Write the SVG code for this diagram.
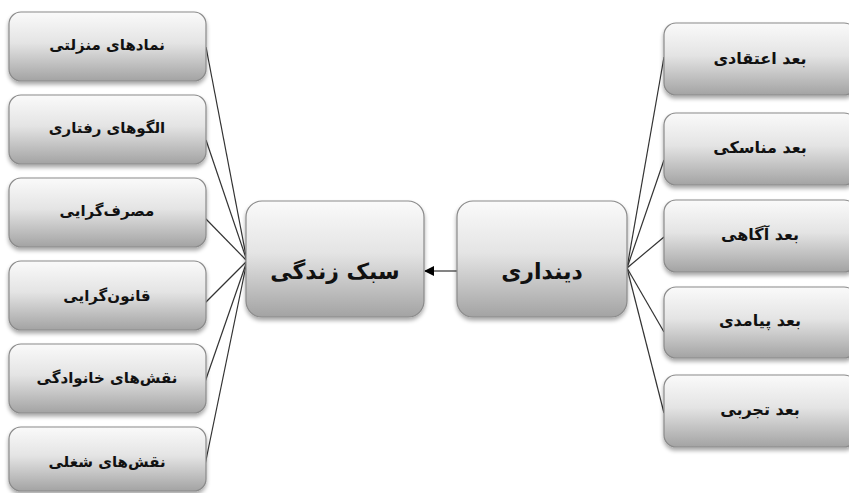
<svg xmlns="http://www.w3.org/2000/svg" width="849" height="493" viewBox="0 0 849 493">
<defs>
<linearGradient id="g" x1="0" y1="0" x2="0" y2="1">
<stop offset="0" stop-color="#fafafa"/>
<stop offset="0.45" stop-color="#e4e4e4"/>
<stop offset="1" stop-color="#a3a3a3"/>
</linearGradient>
<filter id="sh" x="-10%" y="-10%" width="120%" height="130%">
<feGaussianBlur in="SourceAlpha" stdDeviation="2"/>
<feOffset dx="0" dy="3" result="b"/>
<feComponentTransfer><feFuncA type="linear" slope="0.35"/></feComponentTransfer>
<feMerge><feMergeNode/><feMergeNode in="SourceGraphic"/></feMerge>
</filter>
<marker id="ah" markerWidth="10" markerHeight="10" refX="9" refY="5" orient="auto" markerUnits="userSpaceOnUse">
<path d="M0,0 L10,5 L0,10 z" fill="#000"/>
</marker>
</defs>
<style>
.box{fill:url(#g);stroke:#8a8a8a;stroke-width:1.2;filter:url(#sh)}
.t{font-family:"DejaVu Sans",sans-serif;font-weight:bold;fill:#111;text-anchor:middle;dominant-baseline:central}
.s{font-size:15px}
.r{font-size:16px}
.m{font-size:22px}
.c{stroke:#333;stroke-width:1.2;fill:none}
</style>
<rect width="849" height="493" fill="#fff"/>
<g id="connectors">
<line class="c" x1="206" y1="47" x2="247" y2="261"/>
<line class="c" x1="206" y1="140" x2="247" y2="261"/>
<line class="c" x1="205" y1="218" x2="247" y2="261"/>
<line class="c" x1="205" y1="303" x2="247" y2="261"/>
<line class="c" x1="205" y1="382" x2="247" y2="261"/>
<line class="c" x1="205" y1="465" x2="247" y2="261"/>
<line class="c" x1="664" y1="57" x2="627" y2="268"/>
<line class="c" x1="664" y1="160" x2="627" y2="268"/>
<line class="c" x1="664" y1="237" x2="627" y2="268"/>
<line class="c" x1="664" y1="332" x2="627" y2="268"/>
<line class="c" x1="664" y1="413" x2="627" y2="268"/>
<line class="c" x1="457" y1="271" x2="425" y2="271" stroke="#000" stroke-width="2" marker-end="url(#ah)"/>
</g>
<g id="n1"><rect class="box" x="9" y="12" width="197" height="69" rx="12"/><text class="t s" x="107" y="45">نمادهای منزلتی</text></g>
<g id="n2"><rect class="box" x="9" y="95" width="197" height="69" rx="12"/><text class="t s" x="107" y="128">الگوهای رفتاری</text></g>
<g id="n3"><rect class="box" x="9" y="178" width="197" height="69" rx="12"/><text class="t s" x="107" y="211">مصرف‌گرایی</text></g>
<g id="n4"><rect class="box" x="9" y="261" width="197" height="69" rx="12"/><text class="t s" x="107" y="296">قانون‌گرایی</text></g>
<g id="n5"><rect class="box" x="9" y="344" width="197" height="69" rx="12"/><text class="t s" x="107" y="378">نقش‌های خانوادگی</text></g>
<g id="n6"><rect class="box" x="9" y="427" width="197" height="64" rx="12"/><text class="t s" x="107" y="462">نقش‌های شغلی</text></g>
<g id="lifestyle"><rect class="box" x="246" y="201" width="178" height="116" rx="16"/><text class="t m" x="335" y="271">سبک زندگی</text></g>
<g id="religiosity"><rect class="box" x="457" y="201" width="170" height="116" rx="16"/><text class="t m" x="542" y="271">دینداری</text></g>
<g id="r1"><rect class="box" x="664" y="23" width="192" height="72" rx="12"/><text class="t r" x="760" y="58">بعد اعتقادی</text></g>
<g id="r2"><rect class="box" x="664" y="113" width="192" height="72" rx="12"/><text class="t r" x="760" y="147">بعد مناسکی</text></g>
<g id="r3"><rect class="box" x="664" y="200" width="192" height="72" rx="12"/><text class="t r" x="760" y="234">بعد آگاهی</text></g>
<g id="r4"><rect class="box" x="664" y="287" width="192" height="71" rx="12"/><text class="t r" x="760" y="320">بعد پیامدی</text></g>
<g id="r5"><rect class="box" x="664" y="375" width="192" height="72" rx="12"/><text class="t r" x="760" y="409">بعد تجربی</text></g>
</svg>
